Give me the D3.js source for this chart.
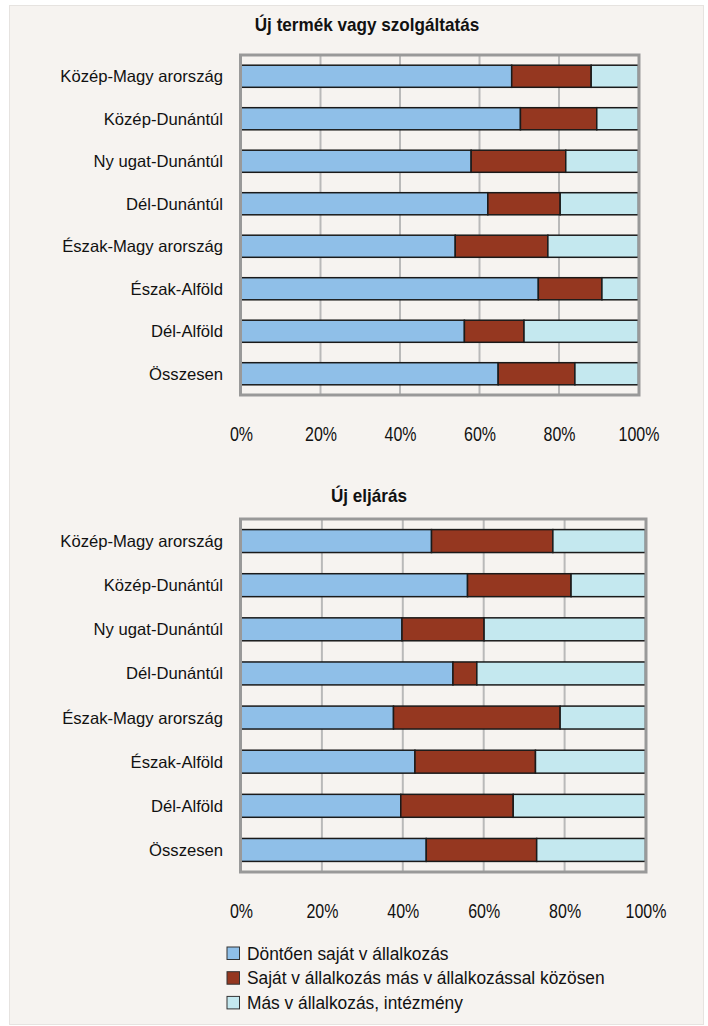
<!DOCTYPE html>
<html lang="hu">
<head>
<meta charset="UTF-8">
<title>Új termék / Új eljárás</title>
<script src="https://cdn.jsdelivr.net/npm/d3@7"></script>
<style>
  body { margin: 0; background: #ffffff; }
  text { font-family: "Liberation Sans", Arial, sans-serif; fill: #111; }
</style>
</head>
<body>
<div id="chart"></div>
<script>
// regions (labels as printed in the source)
var regions = ["Közép-Magy arország", "Közép-Dunántúl", "Ny ugat-Dunántúl", "Dél-Dunántúl",
               "Észak-Magy arország", "Észak-Alföld", "Dél-Alföld", "Összesen"];
var seriesNames = ["Döntően saját v állalkozás", "Saját v állalkozás más v állalkozással közösen", "Más v állalkozás, intézmény"];
var seriesColors = ["#8fbfe8", "#953720", "#c4e8ef"];
var ticks = [0, 20, 40, 60, 80, 100];

// Új termék vagy szolgáltatás (%)
var productOwn    = [68.1, 70.3, 57.9, 62.1, 53.9, 74.8, 56.2, 64.7];
var productJoint  = [20.0, 19.2, 23.8, 18.2, 23.3, 16.0, 15.0, 19.3];
var productOther  = [11.9, 10.5, 18.3, 19.7, 22.8,  9.2, 28.8, 16.0];

// Új eljárás (%)
var processOwn    = [47.1, 56.0, 39.8, 52.4, 37.7, 43.0, 39.5, 45.8];
var processJoint  = [30.0, 25.6, 20.3,  5.9, 41.2, 29.8, 27.8, 27.3];
var processOther  = [22.9, 18.4, 39.9, 41.7, 21.1, 27.2, 32.7, 26.9];

var W = 708, H = 1026;
var svg = d3.select("#chart").append("svg")
    .attr("width", W)
    .attr("height", H);

// the source text is drawn a bit stretched, so scale the glyphs
function stretch(sel, sx, sy) {
    sel.each(function () {
        var t = d3.select(this);
        var x = +t.attr("x") || 0, y = +t.attr("y") || 0;
        t.attr("x", x / sx).attr("y", y / sy)
         .attr("transform", "scale(" + sx + "," + sy + ")");
    });
}

// panel background
svg.append("rect")
    .attr("x", 9.5).attr("y", 5.5)
    .attr("width", 694).attr("height", 1019)
    .attr("fill", "#f6f3f0")
    .attr("stroke", "#e6e3e0");

function drawPanel(title, titleX, titleY, own, joint, other, box, tickY) {
    var rows = regions.map(function (r, i) {
        return {region: r, a: own[i], b: joint[i], c: other[i]};
    });
    var stacked = d3.stack().keys(["a", "b", "c"])(rows);

    var x = d3.scaleLinear().domain([0, 100]).range([box.x0, box.x1]);
    var y = d3.scaleBand().domain(regions)
        .range([box.y0, box.y1])
        .paddingInner(0.48)
        .paddingOuter(0.24);

    var g = svg.append("g");

    g.append("g")
        .attr("transform", "translate(" + titleX + "," + titleY + ")")
        .append("text")
            .attr("text-anchor", "middle")
            .style("font-weight", "bold")
            .style("font-size", "16px")
            .text(title)
            .call(stretch, 1.07, 1.15);

    // gridlines
    g.append("g")
        .selectAll("line")
        .data(ticks.slice(1, -1))
        .enter()
        .append("line")
            .attr("x1", function (d) { return x(d); })
            .attr("x2", function (d) { return x(d); })
            .attr("y1", box.y0).attr("y2", box.y1)
            .attr("stroke", "#b9b9b9")
            .attr("stroke-width", 2);

    // bars
    g.append("g")
        .selectAll("g")
        .data(stacked)
        .enter()
        .append("g")
            .attr("fill", function (d, i) { return seriesColors[i]; })
        .selectAll("rect")
        .data(function (d) { return d; })
        .enter()
        .append("rect")
            .attr("x", function (d) { return x(d[0]); })
            .attr("width", function (d) { return x(d[1]) - x(d[0]); })
            .attr("y", function (d) { return y(d.data.region); })
            .attr("height", y.bandwidth())
            .attr("stroke", "#1a1a1a")
            .attr("stroke-width", 1.5);

    // frame
    g.append("rect")
        .attr("x", box.x0 - 0.5).attr("y", box.y0)
        .attr("width", box.x1 - box.x0 + 1).attr("height", box.y1 - box.y0)
        .attr("fill", "none")
        .attr("stroke", "#999999")
        .attr("stroke-width", 3);

    // category axis
    var yAxis = g.append("g")
        .attr("transform", "translate(" + box.x0 + ",0)")
        .call(d3.axisLeft(y).tickSize(0).tickPadding(18));
    yAxis.select(".domain").remove();
    yAxis.selectAll("text")
        .style("font-size", "16px")
        .style("font-family", null)
        .attr("dy", null)
        .attr("y", 6)
        .call(stretch, 1.04, 1.07);

    // value axis
    var xAxis = g.append("g")
        .attr("transform", "translate(0," + tickY + ")")
        .call(d3.axisBottom(x).tickValues(ticks).tickSize(0)
            .tickFormat(function (d) { return d + "%"; }));
    xAxis.select(".domain").remove();
    xAxis.selectAll("text")
        .style("font-size", "16px")
        .style("font-family", null)
        .attr("dy", null)
        .attr("y", 0)
        .call(stretch, 1, 1.3);
}

drawPanel("Új termék vagy szolgáltatás", 367, 31, productOwn, productJoint, productOther,
    {x0: 241, x1: 638.5, y0: 55, y1: 395}, 441);

drawPanel("Új eljárás", 369, 502, processOwn, processJoint, processOther,
    {x0: 241, x1: 645.5, y0: 519, y1: 872}, 918);

// legend
var legend = svg.append("g")
    .selectAll("g")
    .data(seriesNames)
    .enter()
    .append("g")
        .attr("transform", function (d, i) { return "translate(227," + (947 + i * 24.7) + ")"; });

legend.append("rect")
    .attr("width", 12.5).attr("height", 12.5)
    .attr("fill", function (d, i) { return seriesColors[i]; })
    .attr("stroke", "#333")
    .attr("stroke-width", 1);

legend.append("text")
    .style("font-size", "16px")
    .text(function (d) { return d; })
    .attr("x", 20).attr("y", 12.5)
    .call(stretch, 1.085, 1.12);
</script>
</body>
</html>
